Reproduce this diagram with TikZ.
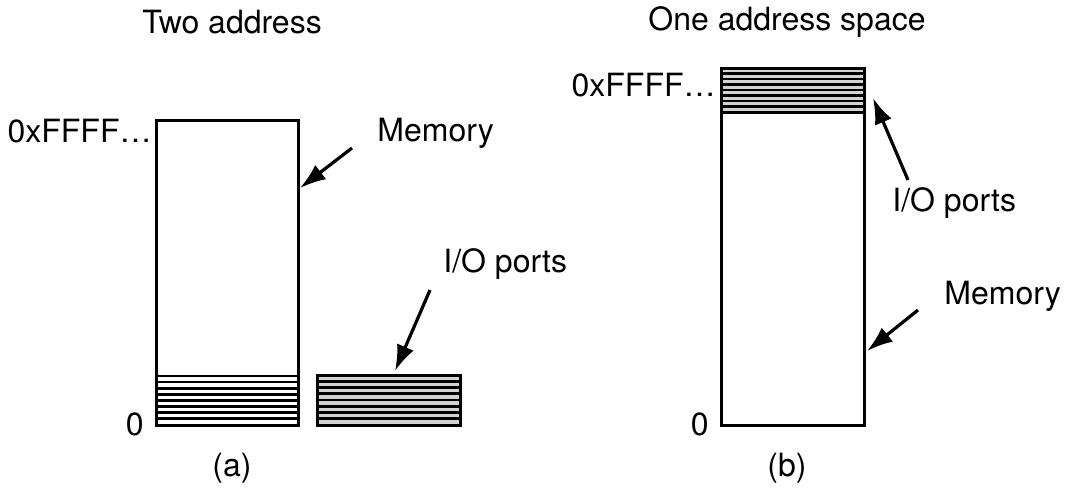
\documentclass[tikz,border=0pt]{standalone}
\usepackage{fontspec}
\setmainfont{TeX Gyre Heros}
\usepackage{tikz}
\usetikzlibrary{positioning}
\usetikzlibrary{arrows.meta}

\begin{document}
\begin{tikzpicture}
                [x=0.5pt, y=-0.5pt,
                 box/.style = {draw, line width=1.5pt},
                 stripe/.style = {line width=1.3pt},
                 lbl/.style = {font=\fontsize{16}{19}\selectfont, inner sep=0pt},
                 pointer/.style = {-{Latex[length=13pt,width=9pt]}, line width=1.6pt}]
    \useasboundingbox (0,0) rectangle (1076,499);

    % (a) two address spaces
    \node[lbl] (ta) at (232,22) {Two address};
    \fill[white] (156,120) rectangle (298,425);
    \foreach \y in {376,382.1,...,425}
        \draw[stripe] (156,\y) -- (298,\y);
    \draw[box] (156,120) rectangle (298,425);
    \coordinate (memtip) at (300,188);
    \coordinate (mfrom) at (352,148);

    \fill[gray!35] (317,375) rectangle (460,425);
    \foreach \y in {375,381.25,...,425}
        \draw[stripe] (317,\y) -- (460,\y);
    \draw[box] (317,375) rectangle (460,425);
    \coordinate (iotip) at (395,371);
    \coordinate (ifrom) at (430,290);

    \node[lbl, anchor=east] (fa) at (152,131) {0xFFFF…};
    \node[lbl, anchor=east] (za) at (144,424) {0};
    \node[lbl, anchor=west] (mema) at (377,133) {Memory};
    \node[lbl, anchor=west] (ioa) at (443,264) {I/O ports};
    \node[lbl] (capa) at (232,468) {(a)};

    \draw[pointer] (mfrom) -- (memtip);
    \draw[pointer] (ifrom) -- (iotip);

    % (b) one address space
    \node[lbl] (oa) at (787,22) {One address space};
    \fill[gray!35] (721,68) rectangle (864,112);
    \foreach \y in {68,73.5,...,112}
        \draw[stripe] (721,\y) -- (864,\y);
    \draw[box] (721,68) rectangle (864,425);
    \draw[box] (721,112) -- (864,112);
    \coordinate (iotipb) at (873,98);
    \coordinate (ibfrom) at (908,180);
    \coordinate (memtipb) at (867,351);
    \coordinate (mbfrom) at (918,310);

    \node[lbl, anchor=east] (fb) at (716,85) {0xFFFF…};
    \node[lbl, anchor=east] (zb) at (709,424) {0};
    \node[lbl, anchor=west] (iob) at (892,203) {I/O ports};
    \node[lbl, anchor=west] (memb) at (944,296) {Memory};
    \node[lbl] (capb) at (787,468) {(b)};

    \draw[pointer] (ibfrom) -- (iotipb);
    \draw[pointer] (mbfrom) -- (memtipb);
\end{tikzpicture}
\end{document}
